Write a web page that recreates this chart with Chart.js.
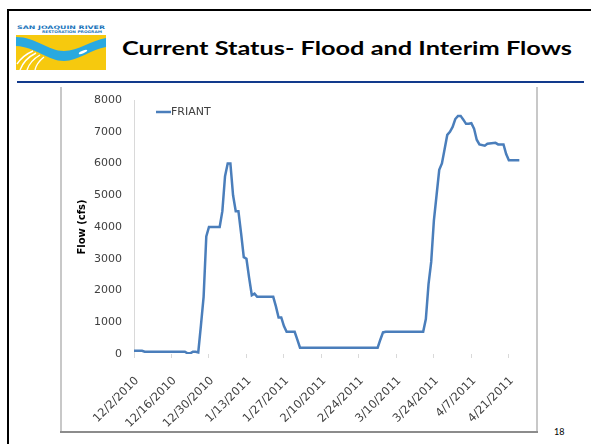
<!DOCTYPE html>
<html><head><meta charset="utf-8">
<script src="https://cdn.jsdelivr.net/npm/chart.js@4.4.0/dist/chart.umd.min.js"></script>
<style>
html,body{margin:0;padding:0;background:#fff;}
body{width:591px;height:444px;position:relative;overflow:hidden;font-family:Lato,'DejaVu Sans',sans-serif;}
#bt{position:absolute;left:7px;top:9px;width:584px;height:2px;background:#000;}
#bl{position:absolute;left:7px;top:9px;width:2px;height:435px;background:#000;}
#logo{position:absolute;left:16px;top:24px;}
#title{position:absolute;left:122px;top:38px;font:bold 18.5px Lato;line-height:20px;white-space:nowrap;transform-origin:0 0;color:#000;}
#rule{position:absolute;left:17px;top:81px;width:567px;height:2px;background:#123a8c;}
#fl{position:absolute;left:60px;top:87px;width:2px;height:346px;background:#c8c8c8;}
#fr{position:absolute;left:536px;top:87px;width:2px;height:346px;background:#c8c8c8;}
#fb{position:absolute;left:60px;top:431px;width:478px;height:2px;background:#8c8c8c;}
#pg{position:absolute;left:554px;top:427px;font:9px Lato;line-height:10px;color:#000;}
#wrap{position:absolute;left:63px;top:89px;width:472px;height:342px;}
canvas{display:block;}
</style>
</head>
<body>
<div id="bt"></div><div id="bl"></div>
<svg id="logo" width="90" height="46" viewBox="0 0 90 46">
<rect width="90" height="46" fill="#fff"/>
<text x="1" y="4.8" font-family="DejaVu Sans" font-weight="bold" font-size="4.8" fill="#1b75bb" textLength="88" lengthAdjust="spacingAndGlyphs">SAN JOAQUIN RIVER</text>
<text x="26" y="9.4" font-family="DejaVu Sans" font-weight="bold" font-size="3.6" fill="#1b75bb" textLength="60" lengthAdjust="spacingAndGlyphs">RESTORATION PROGRAM</text>
<rect y="11" width="90" height="35" fill="#f6c90e"/>
<path d="M0,13 C20,13 32,27 48,27 C62,27 76,16 90,14 L90,23 C76,25 62,37 48,37 C32,37 20,23 0,22 Z" fill="#29a9e0"/>
<ellipse cx="67" cy="28" rx="4.5" ry="1.3" fill="#fff" transform="rotate(-22 67 28)"/>
<g stroke="#fff" stroke-width="1.4" fill="none">
<path d="M1,40 C5,34 10,30 17,27"/>
<path d="M4,46 C7,38 12,33 20,29"/>
<path d="M11,46 C13,40 17,35 24,31"/>
<path d="M19,46 C20,41 23,37 28,33"/>
</g>
</svg>
<div id="title"><span id="tt">Current Status- Flood and Interim Flows</span></div>
<div id="rule"></div>
<div id="fl"></div><div id="fr"></div><div id="fb"></div>
<div id="pg">18</div>
<div id="wrap"><canvas id="c" width="472" height="342"></canvas></div>
<script>
// ---- data ----
const seriesName = 'FRIANT';
const dates = ['12/2/2010','12/5/2010','12/6/2010','12/21/2010','12/22/2010','12/23/2010','12/24/2010','12/25/2010','12/26/2010','12/27/2010','12/28/2010','12/29/2010','12/30/2010',
 '1/3/2011','1/4/2011','1/5/2011','1/6/2011','1/7/2011','1/8/2011','1/9/2011','1/10/2011','1/11/2011','1/12/2011','1/13/2011','1/14/2011','1/15/2011','1/16/2011','1/17/2011',
 '1/23/2011','1/24/2011','1/25/2011','1/26/2011','1/27/2011','1/28/2011','1/31/2011','2/1/2011','2/2/2011',
 '3/3/2011','3/4/2011','3/5/2011','3/6/2011','3/20/2011','3/21/2011','3/22/2011','3/23/2011','3/24/2011','3/25/2011','3/26/2011','3/27/2011','3/28/2011','3/29/2011','3/30/2011','3/31/2011',
 '4/1/2011','4/2/2011','4/3/2011','4/4/2011','4/5/2011','4/6/2011','4/7/2011','4/8/2011','4/9/2011','4/10/2011','4/12/2011','4/13/2011','4/16/2011','4/17/2011','4/19/2011','4/20/2011','4/21/2011','4/25/2011'];
const flows = [100,100,70,70,20,20,70,70,50,900,1800,3700,4000,
 4000,4500,5600,6000,6000,5000,4500,4500,3800,3050,3000,2400,1850,1900,1800,
 1800,1500,1150,1150,880,700,700,450,200,
 200,450,680,700,700,1100,2200,2900,4200,5000,5800,6000,6450,6900,7000,7150,
 7400,7500,7500,7380,7250,7250,7270,7100,6750,6600,6560,6620,6650,6600,6600,6300,6100,6100];
const tickStepDays = 14;
const yMin = 0, yMax = 8000, yStep = 1000;

// ---- helpers ----
const base = Date.UTC(2010, 11, 2);
function dayOf(s){const p=s.split('/').map(Number);return Math.round((Date.UTC(p[2],p[0]-1,p[1])-base)/86400000);}
function labelOf(day){const d=new Date(base+day*86400000);return (d.getUTCMonth()+1)+'/'+d.getUTCDate()+'/'+d.getUTCFullYear();}
const points = dates.map((s,i)=>({x:dayOf(s),y:flows[i]}));
const lastDay = dayOf(dates[dates.length-1]);

// title fit
const tt=document.getElementById('tt');
const w=tt.getBoundingClientRect().width;
document.getElementById('title').style.transform='scaleX('+(450/w)+')';

const legendPlugin={id:'lg',afterDraw(chart){
  const {ctx,chartArea:a}=chart;
  ctx.save();
  ctx.strokeStyle='#4a7ebb';ctx.lineWidth=2.5;
  ctx.beginPath();ctx.moveTo(a.left+22,a.top+12);ctx.lineTo(a.left+37,a.top+12);ctx.stroke();
  ctx.fillStyle='#404040';ctx.font='11px "DejaVu Sans"';ctx.textBaseline='middle';ctx.textAlign='left';
  ctx.fillText(seriesName,a.left+37,a.top+12);
  ctx.restore();
}};

new Chart(document.getElementById('c'),{
 type:'line',
 data:{datasets:[{label:seriesName,data:points,borderColor:'#4a7ebb',borderWidth:2.5,pointRadius:0,tension:0,fill:false}]},
 options:{
  responsive:false,animation:false,devicePixelRatio:1,
  layout:{padding:{top:11,right:14,left:0,bottom:0}},
  plugins:{legend:{display:false},tooltip:{enabled:false}},
  scales:{
   x:{type:'linear',min:0,max:lastDay,
      afterFit:s=>{s.height=77;},
      afterBuildTicks:s=>{s.ticks=s.ticks.filter(t=>t.value%tickStepDays===0);},
      ticks:{stepSize:tickStepDays,includeBounds:false,autoSkip:false,maxRotation:45,minRotation:45,padding:16,labelOffset:3,color:'#404040',
             font:{family:'DejaVu Sans',size:11.5},callback:v=>labelOf(v)},
      grid:{display:true,drawOnChartArea:false,drawTicks:true,tickLength:4,color:'#d9d9d9'},
      border:{display:false}},
   y:{min:yMin,max:yMax,
      afterFit:s=>{s.width=71;s.paddingTop=0;s.paddingBottom=0;},
      ticks:{stepSize:yStep,padding:12,color:'#404040',font:{family:'DejaVu Sans',size:11},callback:v=>String(v)},
      grid:{display:false,drawTicks:false},
      border:{display:true,color:'#d9d9d9',width:1},
      title:{display:true,text:'Flow (cfs)',color:'#000',font:{family:'DejaVu Sans',size:10,weight:'bold'},padding:{top:13,bottom:0}}}
  }
 },
 plugins:[legendPlugin]
});
</script>
</body></html>
